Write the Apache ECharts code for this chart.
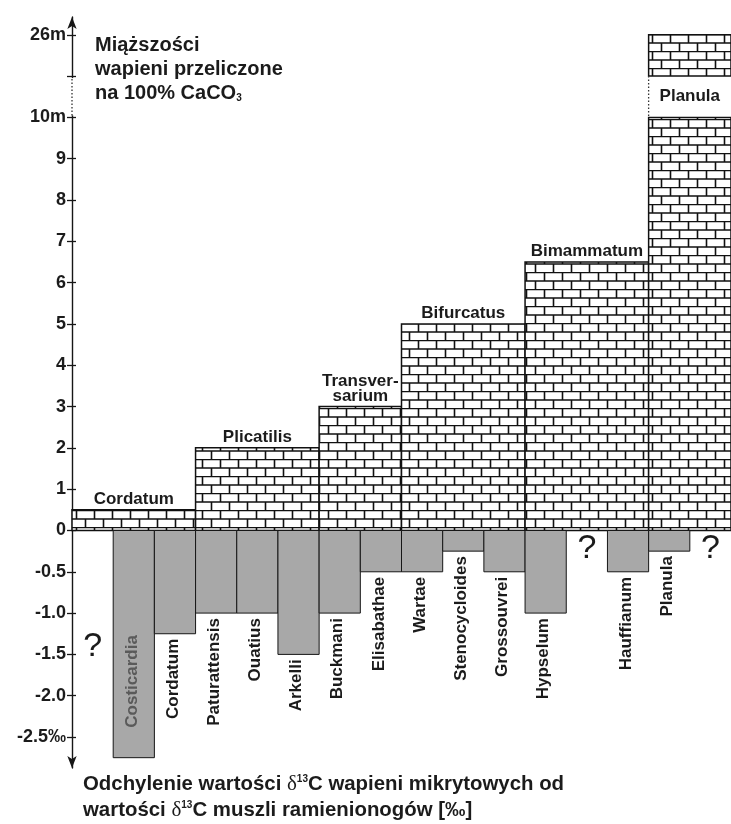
<!DOCTYPE html>
<html><head><meta charset="utf-8">
<script src="https://cdn.jsdelivr.net/npm/echarts@6/dist/echarts.min.js"></script>
<style>html,body{margin:0;padding:0;background:#fff}#c{width:731px;height:824px}</style>
</head><body><div id="c"></div>
<script>
// ---- data ----
var slots = ['q1','Costicardia','Cordatum','Paturattensis','Ouatius','Arkelli','Buckmani','Elisabathae','Wartae','Stenocycloides','Grossouvrei','Hypselum','q2','Hauffianum','Planula','q3'];
var lowerNames = ['','Costicardia','Cordatum','Paturattensis','Ouatius','Arkelli','Buckmani','Elisabathae','Wartae','Stenocycloides','Grossouvrei','Hypselum','','Hauffianum','Planula',''];
var lowerValues = [null,-2.75,-1.25,-1.0,-1.0,-1.5,-1.0,-0.5,-0.5,-0.25,-0.5,-1.0,null,-0.5,-0.25,null];
var unknownSlots = [0,12,15];
var unknownLevels = [-1.4,-0.22,-0.22];
var zoneNames = ['Cordatum','Plicatilis','Transver-\nsarium','Bifurcatus','Bimammatum','Planula'];
var zoneFirstSlot = [0,3,6,8,11,14];
var zoneLastSlot = [2,5,7,10,13,15];
var zoneThickness = [0.5,2,3,5,6.5,26];
var yTickValues = [-2.5,-2.0,-1.5,-1.0,-0.5,0,1,2,3,4,5,6,7,8,9,10,26];
var yTickLabels = ['-2.5‰','-2.0','-1.5','-1.0','-0.5','0','1','2','3','4','5','6','7','8','9','10m','26m'];
var BREAK_LOW = 10, BREAK_HIGH = 25;

// axis transform: negative part (per mil) drawn at double scale, break between 10 m and 25 m
function toAxis(v){
  if (v < 0) return 2 * v;
  if (v <= BREAK_LOW) return v;
  return (BREAK_LOW + 1) + (v - BREAK_HIGH);
}

var FONT = '"Liberation Sans", Arial, sans-serif';
var INK = '#1b1b1b';

function makeBrick(){
  var c = document.createElement('canvas'); c.width = 18; c.height = 17;
  var g = c.getContext('2d');
  g.fillStyle = '#fff'; g.fillRect(0,0,18,17);
  g.strokeStyle = '#111'; g.lineWidth = 1.6;
  g.beginPath();
  g.moveTo(0,0.5); g.lineTo(18,0.5);
  g.moveTo(0,9); g.lineTo(18,9);
  g.moveTo(4.5,0.5); g.lineTo(4.5,9);
  g.moveTo(13.5,9); g.lineTo(13.5,17);
  g.stroke();
  return c;
}
var brickCanvas = makeBrick();

var labelMap = {};
yTickValues.forEach(function(v,i){ labelMap[toAxis(v)] = yTickLabels[i]; });
var labelPositions = yTickValues.map(toAxis);
var tickPositions = labelPositions.concat([toAxis(BREAK_HIGH)]);

function renderZone(params, api){
  var i = params.dataIndex;
  var s = api.value(0), e = api.value(1), t = zoneThickness[i];
  var w = api.size([1,0])[0];
  var x0 = api.coord([s,0])[0] - w/2, x1 = api.coord([e,0])[0] + w/2;
  var yb = api.coord([s,0])[1];
  var brick = {image: brickCanvas, repeat: 'repeat'};
  function box(yA, yB){
    return {type:'rect', shape:{x:x0, y:yA, width:x1-x0, height:yB-yA},
      style:{fill:brick, stroke:'#111', lineWidth:1.5}};
  }
  var ch = [];
  if (t <= BREAK_LOW){
    var yt = api.coord([s, toAxis(t)])[1];
    ch.push(box(yt, yb));
    ch.push({type:'text', x:(x0+x1)/2, y:yt-3,
      style:{text:zoneNames[i], fill:INK, font:'bold 17px '+FONT, align:'center', verticalAlign:'bottom', lineHeight:15}});
  } else {
    var y10 = api.coord([s, toAxis(BREAK_LOW)])[1];
    var y11 = api.coord([s, toAxis(BREAK_HIGH)])[1];
    var ytop = api.coord([s, toAxis(t)])[1];
    ch.push(box(y10, yb));
    ch.push(box(ytop, y11));
    ch.push({type:'line', shape:{x1:x0, y1:y11, x2:x0, y2:y10},
      style:{stroke:'#333', lineWidth:1.3, lineDash:[1.5,2]}});
    ch.push({type:'text', x:(x0+x1)/2, y:(y10+y11)/2,
      style:{text:zoneNames[i], fill:INK, font:'bold 17px '+FONT, align:'center', verticalAlign:'middle'}});
  }
  return {type:'group', children:ch};
}

var lowerData = [];
lowerValues.forEach(function(v,i){ if (v !== null) lowerData.push([i, toAxis(v)]); });

function renderLower(params, api){
  var idx = api.value(0), ya = api.value(1);
  var w = api.size([1,0])[0];
  var c0 = api.coord([idx, 0]), c1 = api.coord([idx, ya]);
  var ch = [{type:'rect', shape:{x:c0[0]-w/2, y:c0[1], width:w, height:c1[1]-c0[1]},
    style:{fill:'#a8a8a8', stroke:'#161616', lineWidth:1}}];
  var name = lowerNames[idx];
  if (ya <= -5){
    ch.push({type:'text', x:c0[0]-1, y:c1[1]-30, rotation:Math.PI/2,
      style:{text:name, fill:'#5a5a5a', font:'bold 17px '+FONT, align:'left', verticalAlign:'middle'}});
  } else {
    ch.push({type:'text', x:c0[0]-2, y:c1[1]+5, rotation:Math.PI/2,
      style:{text:name, fill:INK, font:'bold 17px '+FONT, align:'right', verticalAlign:'middle'}});
  }
  return {type:'group', children:ch};
}

function renderUnknown(params, api){
  var c = api.coord([api.value(0), api.value(1)]);
  return {type:'text', x:c[0], y:c[1],
    style:{text:'?', fill:INK, font:'34px '+FONT, align:'center', verticalAlign:'middle'}};
}

function renderBreak(params, api){
  var w = api.size([1,0])[0];
  var x = api.coord([0,0])[0] - w/2;
  var yA = api.coord([0, api.value(1)])[1], yB = api.coord([0, api.value(2)])[1];
  return {type:'group', children:[
    {type:'line', shape:{x1:x, y1:yA-2, x2:x, y2:yB+2}, style:{stroke:'#fff', lineWidth:4}},
    {type:'line', shape:{x1:x, y1:yA-2, x2:x, y2:yB+2}, style:{stroke:'#333', lineWidth:1.3, lineDash:[1.5,2]}}
  ]};
}

var chart = echarts.init(document.getElementById('c'), null, {renderer:'canvas'});
chart.setOption({
  animation:false,
  backgroundColor:'#fff',
  grid:{left:72, right:0, top:17, bottom:56, containLabel:false},
  xAxis:{type:'category', data:slots, boundaryGap:true, show:false},
  yAxis:[{
    type:'value', min:-5.75, max:12.43, position:'left',
    splitLine:{show:false},
    axisLine:{show:true, lineStyle:{color:'#161616', width:1.4}, symbol:['arrow','arrow'], symbolSize:[7,12]},
    axisTick:{show:true, length:5, customValues:tickPositions, lineStyle:{color:'#161616', width:1.3}},
    axisLabel:{show:true, customValues:labelPositions, margin:6, color:INK, fontSize:18, fontWeight:'bold', fontFamily:FONT,
      formatter:function(v){ return labelMap[v] !== undefined ? labelMap[v] : ''; }}
  },{
    type:'value', min:-5.75, max:12.43, position:'left', offset:0,
    splitLine:{show:false}, axisLine:{show:false},
    axisTick:{show:true, inside:true, length:4, customValues:tickPositions, lineStyle:{color:'#161616', width:1.3}},
    axisLabel:{show:false}
  }],
  series:[
    {type:'custom', name:'zones', renderItem:renderZone, clip:false,
     data:zoneFirstSlot.map(function(s,i){ return [s, zoneLastSlot[i], toAxis(zoneThickness[i])]; }),
     encode:{x:[0,1], y:2}, z:2},
    {type:'custom', name:'delta', renderItem:renderLower, clip:false, data:lowerData, encode:{x:0, y:1}, z:3},
    {type:'custom', name:'unknown', renderItem:renderUnknown, clip:false,
     data:unknownSlots.map(function(s,i){ return [s, toAxis(unknownLevels[i])]; }), encode:{x:0, y:1}, z:3},
    {type:'custom', name:'axisBreak', renderItem:renderBreak, clip:false,
     data:[[0, toAxis(BREAK_LOW), toAxis(BREAK_HIGH)]], encode:{x:0, y:[1,2]}, z:4}
  ],
  graphic:[
    {type:'text', left:95, top:35, style:{text:'Miąższości', fill:INK, font:'bold 20px '+FONT}},
    {type:'text', left:95, top:59, style:{text:'wapieni przeliczone', fill:INK, font:'bold 20px '+FONT}},
    {type:'text', left:95, top:83, style:{text:'na 100% CaCO{sub|3}', fill:INK, font:'bold 20px '+FONT,
      rich:{sub:{fontSize:10, fontWeight:'bold', fontFamily:FONT, fill:INK, verticalAlign:'bottom', padding:[9,0,0,0]}}}},
    {type:'text', left:83, top:774, style:{text:'Odchylenie wartości {d|δ}{sup|13}C wapieni mikrytowych od', fill:INK, font:'bold 20.4px '+FONT,
      rich:{d:{fontFamily:'"Liberation Serif", serif', fontSize:21, fontWeight:'normal', fill:INK},
            sup:{fontSize:10, fontWeight:'bold', fontFamily:FONT, fill:INK, verticalAlign:'top', padding:[0,0,9,0]}}}},
    {type:'text', left:83, top:800, style:{text:'wartości {d|δ}{sup|13}C muszli ramienionogów [‰]', fill:INK, font:'bold 20.4px '+FONT,
      rich:{d:{fontFamily:'"Liberation Serif", serif', fontSize:21, fontWeight:'normal', fill:INK},
            sup:{fontSize:10, fontWeight:'bold', fontFamily:FONT, fill:INK, verticalAlign:'top', padding:[0,0,9,0]}}}}
  ]
});
</script></body></html>
